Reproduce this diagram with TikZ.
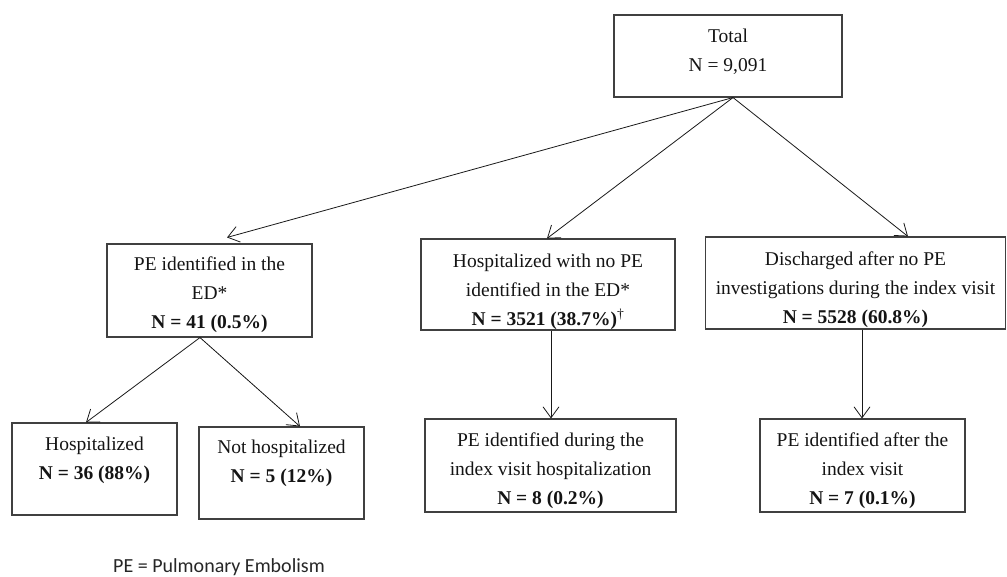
\documentclass[tikz,border=0pt]{standalone}
\usepackage{fontspec}
\setmainfont{Liberation Serif}
\newfontfamily\notefont{Carlito}
\usetikzlibrary{arrows.meta}
\begin{document}
\begin{tikzpicture}[x=1pt,y=-1pt,
  boxnode/.style={draw=black!75,line width=1.1pt,inner sep=0pt,rectangle},
  txt/.style={align=center,inner sep=0pt,text=black!92,font=\fontsize{19.5}{29}\selectfont},
  arr/.style={draw=black!90,line width=0.8pt,-{Straight Barb[length=11pt,width=16pt]}}
]
\useasboundingbox (0,0) rectangle (1007,576);
% boxes
\node[boxnode,minimum width=228pt,minimum height=82pt] (total) at (728,56) {};
\node[boxnode,minimum width=205pt,minimum height=93pt] (pe) at (209.5,290.5) {};
\node[boxnode,minimum width=254pt,minimum height=91pt] (mid) at (548,284.5) {};
\node[boxnode,minimum width=300pt,minimum height=92pt] (dis) at (855.5,283) {};
\node[boxnode,minimum width=165pt,minimum height=92pt] (hosp) at (94.5,469) {};
\node[boxnode,minimum width=165pt,minimum height=92pt] (nhosp) at (281.5,473) {};
\node[boxnode,minimum width=251pt,minimum height=93pt] (midb) at (550.5,465.5) {};
\node[boxnode,minimum width=205pt,minimum height=93pt] (disb) at (862.5,465.5) {};
% texts
\node[txt] (totalt) at (728,52) {Total\\N = 9,091};
\node[txt] (pet) at (209.5,295) {PE identified in the\\ED*\\\textbf{N = 41 (0.5\%)}};
\node[txt] (midt) at (548,292) {Hospitalized with no PE\\identified in the ED*\\\textbf{N = 3521 (38.7\%)}\textsuperscript{\dag}};
\node[txt] (dist) at (855.5,290) {Discharged after no PE\\investigations during the index visit\\\textbf{N = 5528 (60.8\%)}};
\node[txt] (hospt) at (94.5,460) {Hospitalized\\\textbf{N = 36 (88\%)}};
\node[txt] (nhospt) at (281.5,463) {Not hospitalized\\\textbf{N = 5 (12\%)}};
\node[txt] (midbt) at (550.5,471) {PE identified during the\\index visit hospitalization\\\textbf{N = 8 (0.2\%)}};
\node[txt] (disbt) at (862.5,471) {PE identified after the\\index visit\\\textbf{N = 7 (0.1\%)}};
\node[inner sep=0pt,text=black!85,font=\notefont\fontsize{20}{22}\selectfont] (note) at (219,567) {PE = Pulmonary Embolism};
% connectors
\draw[arr] ([xshift=5pt]total.south) -- ([xshift=17.5pt,yshift=6pt]pe.north);
\draw[arr] ([xshift=5pt]total.south) -- ([xshift=-1pt]mid.north);
\draw[arr] ([xshift=5pt]total.south) -- ([xshift=52.5pt]dis.north);
\draw[arr] ([xshift=-9.5pt]pe.south) -- ([xshift=-8.5pt]hosp.north);
\draw[arr] ([xshift=-9.5pt]pe.south) -- ([xshift=18.5pt]nhosp.north);
\draw[arr] ([xshift=3pt]mid.south) -- ([xshift=0.5pt]midb.north);
\draw[arr] ([xshift=6.5pt]dis.south) -- ([xshift=-0.5pt]disb.north);
\end{tikzpicture}
\end{document}
